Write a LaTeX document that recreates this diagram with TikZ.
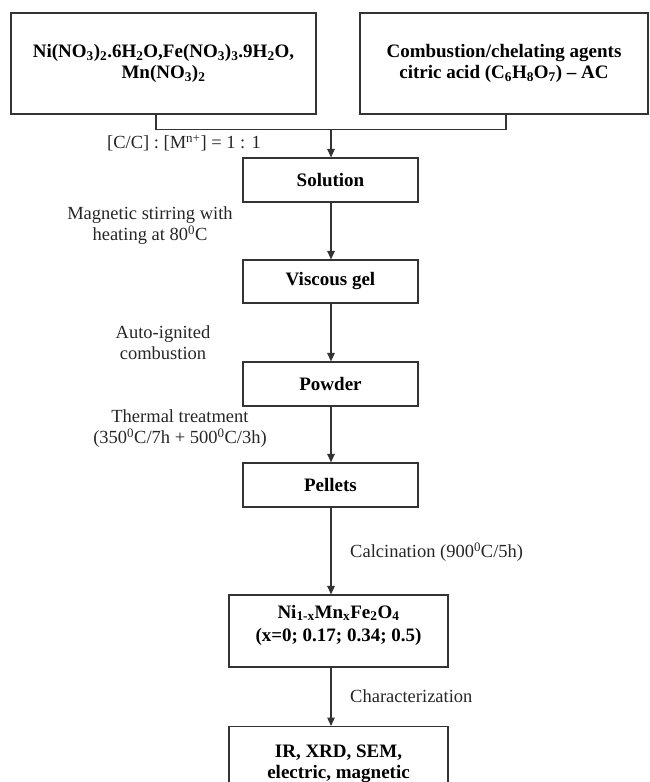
\documentclass[tikz,border=0pt]{standalone}
\usepackage{fontspec}
\setmainfont{Liberation Serif}
\usetikzlibrary{arrows.meta}
\begin{document}
\begin{tikzpicture}[x=1pt,y=-1pt,
  every node/.style={font=\fontsize{18.5}{21}\selectfont},
  box/.style={draw=black!80, line width=1.2pt, inner sep=0pt, align=center,
    font=\fontsize{19}{21.5}\selectfont\bfseries},
  btxt/.style={inner sep=0pt, align=center, font=\fontsize{19}{23}\selectfont\bfseries},
  lbl/.style={align=center, text=black!85, inner sep=0pt},
  conn/.style={draw=black!80, line width=1.2pt},
  arr/.style={conn, -{Triangle[length=8.5pt,width=7.5pt]}}]
\useasboundingbox (0,0) rectangle (650,782);
% top boxes
\node[box, minimum width=305pt, minimum height=101pt] (L) at (163.5,63.5)
  {Ni(NO\textsubscript{3})\textsubscript{2}.6H\textsubscript{2}O,Fe(NO\textsubscript{3})\textsubscript{3}.9H\textsubscript{2}O,\\Mn(NO\textsubscript{3})\textsubscript{2}};
\node[box, minimum width=288pt, minimum height=101pt] (R) at (504,63.5)
  {Combustion/chelating agents\\citric acid (C\textsubscript{6}H\textsubscript{8}O\textsubscript{7}) -- AC};
% process boxes
\node[box, minimum width=175pt, minimum height=44pt] (S) at (330.5,180) {Solution};
\node[box, minimum width=175pt, minimum height=43pt] (V) at (330.5,281.5) {Viscous gel};
\node[box, minimum width=175pt, minimum height=44pt] (P) at (330.5,384) {Powder};
\node[box, minimum width=175pt, minimum height=44pt] (Pe) at (330.5,485) {Pellets};
\node[box, minimum width=219pt, minimum height=72pt] (N) at (338.5,631) {};
\node[btxt] (Nt) at (338.5,625)
  {Ni\textsubscript{1-x}Mn\textsubscript{x}Fe\textsubscript{2}O\textsubscript{4}\\(x=0; 0.17; 0.34; 0.5)};
\node[box, minimum width=219pt, minimum height=74pt, anchor=north] (IR) at (338.5,726)
  {IR, XRD, SEM,\\electric, magnetic};
% junction
\coordinate (J) at (331,129);
\draw[conn] ([xshift=-7.5pt]L.south) -- ++(0,15) -| ([xshift=2pt]R.south);
\draw[arr] (J) -- (J |- S.north);
\draw[arr] (S.south -| J) -- (J |- V.north);
\draw[arr] (V.south -| J) -- (J |- P.north);
\draw[arr] (P.south -| J) -- (J |- Pe.north);
\draw[arr] (Pe.south -| J) -- (J |- N.north);
\draw[arr] (N.south -| J) -- (J |- IR.north);
% labels
\node[lbl, anchor=east] (l1) at (261,143) {[C/C] : [M\textsuperscript{n+}] = 1 : 1};
\node[lbl] (l2) at (150,226) {Magnetic stirring with\\heating at 80\textsuperscript{0}C};
\node[lbl] (l3) at (163,342.5) {Auto-ignited\\combustion};
\node[lbl] (l4) at (180,429) {Thermal treatment\\(350\textsuperscript{0}C/7h + 500\textsuperscript{0}C/3h)};
\node[lbl, anchor=west] (l5) at (350,552) {Calcination (900\textsuperscript{0}C/5h)};
\node[lbl, anchor=west] (l6) at (350,696) {Characterization};
\end{tikzpicture}
\end{document}
